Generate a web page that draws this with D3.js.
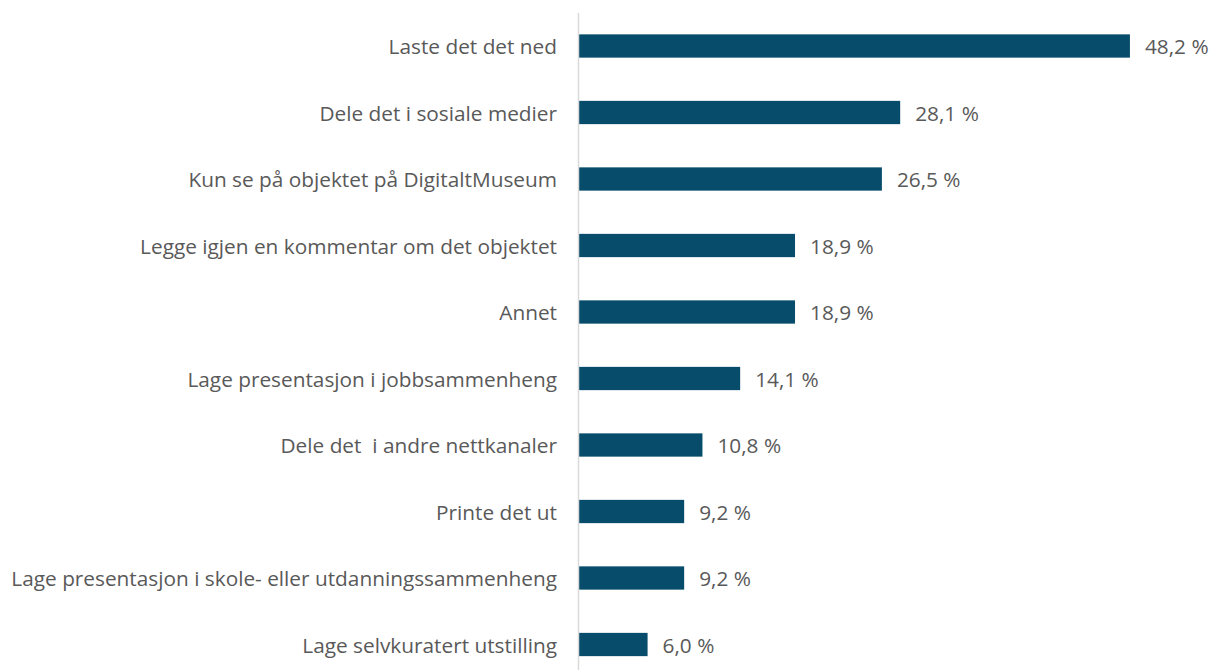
<!DOCTYPE html>
<html><head><meta charset="utf-8">
<script src="https://cdn.jsdelivr.net/npm/d3@7"></script>
<style>body{margin:0;background:#fff}svg{display:block}text{white-space:pre}</style>
</head><body>
<script>
const categories = [
  "Laste det det ned",
  "Dele det i sosiale medier",
  "Kun se på objektet på DigitaltMuseum",
  "Legge igjen en kommentar om det objektet",
  "Annet",
  "Lage presentasjon i jobbsammenheng",
  "Dele det  i andre nettkanaler",
  "Printe det ut",
  "Lage presentasjon i skole- eller utdanningssammenheng",
  "Lage selvkuratert utstilling"
];
const values = [48.2, 28.1, 26.5, 18.9, 18.9, 14.1, 10.8, 9.2, 9.2, 6.0];

const W = 1214, H = 670;
const svg = d3.select("body").append("svg").attr("width", W).attr("height", H);
const x = d3.scaleLinear().domain([0, 50]).range([579, 1150.5]);
const y = d3.scaleBand().domain(categories).range([12.75, 677.75]).paddingInner(0.65).paddingOuter(0.325);
const fmt = v => d3.format(".1f")(v).replace(".", ",") + " %";
const font = "'Open Sans', sans-serif";

svg.selectAll("rect.bar").data(values).join("rect")
  .attr("class", "bar")
  .attr("x", x(0)).attr("y", (d, i) => y(categories[i]))
  .attr("width", d => x(d) - x(0)).attr("height", y.bandwidth())
  .attr("fill", "#074c6b");

svg.append("line").attr("x1", 578.5).attr("x2", 578.5).attr("y1", 13).attr("y2", H)
  .attr("stroke", "#d9d9d9").attr("stroke-width", 1.5);

svg.selectAll("text.cat").data(categories).join("text")
  .attr("class", "cat")
  .attr("x", 557).attr("y", d => y(d) + y.bandwidth() / 2)
  .attr("text-anchor", "end").attr("dominant-baseline", "central")
  .attr("font-family", font).attr("font-size", 20.8).attr("fill", "#595959")
  .text(d => d);

svg.selectAll("text.val").data(values).join("text")
  .attr("class", "val")
  .attr("x", d => x(d) + 15).attr("y", (d, i) => y(categories[i]) + y.bandwidth() / 2)
  .attr("dominant-baseline", "central")
  .attr("font-family", font).attr("font-size", 20.8).attr("fill", "#595959")
  .text(fmt);
</script>
</body></html>
